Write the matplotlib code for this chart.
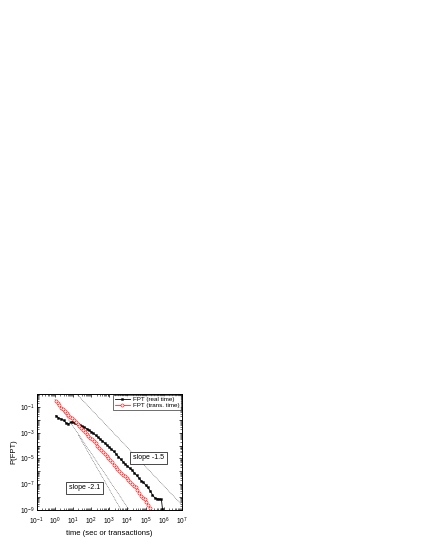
import matplotlib
matplotlib.use("Agg")
import matplotlib.pyplot as plt
import matplotlib.ticker as mticker
import numpy as np

plt.rcParams['font.family'] = ['Liberation Sans', 'DejaVu Sans']
plt.rcParams['mathtext.fontset'] = 'custom'
plt.rcParams['mathtext.rm'] = 'Liberation Sans'
plt.rcParams['mathtext.it'] = 'Liberation Sans'
plt.rcParams['mathtext.default'] = 'regular'

# FPT (real time): log10(time), log10(P)
real_logt = [0.06, 0.2, 0.35, 0.5, 0.62, 0.75, 0.87, 1.0, 1.12, 1.25, 1.37, 1.5,
             1.62, 1.75, 1.87, 2.0, 2.12, 2.25, 2.37, 2.5, 2.62, 2.75, 2.87, 3.0,
             3.12, 3.25, 3.37, 3.5, 3.62, 3.75, 3.87, 4.0, 4.12, 4.25, 4.37, 4.5,
             4.62, 4.75, 4.87, 5.0, 5.12, 5.25, 5.37, 5.5, 5.62, 5.75, 5.87, 5.93]
real_logp = [-1.68, -1.85, -1.95, -2.05, -2.25, -2.32, -2.2, -2.15, -2.28, -2.35, -2.42, -2.5,
             -2.58, -2.68, -2.8, -2.92, -3.05, -3.2, -3.35, -3.5, -3.65, -3.8, -3.97, -4.12,
             -4.3, -4.45, -4.65, -4.85, -5.05, -5.25, -5.42, -5.6, -5.75, -5.9, -6.1, -6.3,
             -6.5, -6.72, -6.85, -7.05, -7.25, -7.5, -7.8, -8.05, -8.12, -8.15, -8.17, -8.9]

# FPT (trans. time)
trans_logt = [0.06, 0.15, 0.25, 0.35, 0.45, 0.55, 0.65, 0.75, 0.85, 0.95, 1.05, 1.15,
              1.25, 1.35, 1.45, 1.55, 1.65, 1.75, 1.85, 1.95, 2.05, 2.15, 2.25, 2.35,
              2.45, 2.55, 2.65, 2.75, 2.85, 2.95, 3.05, 3.15, 3.25, 3.35, 3.45, 3.55,
              3.65, 3.75, 3.85, 3.95, 4.05, 4.15, 4.25, 4.35, 4.45, 4.55, 4.65, 4.75,
              4.85, 4.95, 5.05, 5.15, 5.25]
trans_logp = [-0.52, -0.7, -0.88, -1.05, -1.2, -1.35, -1.45, -1.6, -1.75, -1.9, -2.05, -2.18,
              -2.35, -2.5, -2.66, -2.8, -2.95, -3.1, -3.24, -3.38, -3.52, -3.68, -3.84, -4.0,
              -4.16, -4.32, -4.5, -4.66, -4.82, -4.98, -5.14, -5.3, -5.47, -5.64, -5.82, -5.98,
              -6.12, -6.26, -6.38, -6.52, -6.66, -6.8, -6.96, -7.1, -7.25, -7.45, -7.65, -7.9,
              -8.05, -8.15, -8.4, -8.65, -8.85]

# guide lines (log10 endpoints)
guide_a_logt = [1.2, 7.0]
guide_a_logp = [0.0, -8.6]
guide_b_logt = [0.0, 4.1]
guide_b_logp = [-0.4, -9.0]
guide_c_logt = [1.3, 3.65]
guide_c_logp = [-3.2, -9.0]

fig = plt.figure(figsize=(4.21, 5.45), dpi=100)
ax = fig.add_axes([0.0872, 0.0642, 0.3448, 0.2129])

for gx, gy in [(guide_a_logt, guide_a_logp), (guide_b_logt, guide_b_logp),
               (guide_c_logt, guide_c_logp)]:
    ax.plot(10.0 ** np.array(gx), 10.0 ** np.array(gy), color='#444444',
            lw=0.4, ls=(0, (1.5, 1.5)))

ax.plot(10.0 ** np.array(real_logt), 10.0 ** np.array(real_logp), color='black',
        lw=0.6, marker='s', ms=1.4, mew=0.3, label='FPT (real time)')
ax.plot(10.0 ** np.array(trans_logt), 10.0 ** np.array(trans_logp), color='red',
        lw=0.5, marker='o', ms=2.2, mfc='white', mec='red', mew=0.4,
        label='FPT (trans. time)')

ax.set_xscale('log')
ax.set_yscale('log')
ax.set_xlim(1e-1, 1e7)
ax.set_ylim(1e-9, 1e0)

ax.xaxis.set_major_locator(mticker.LogLocator(base=10, numticks=20))
ax.yaxis.set_major_locator(mticker.LogLocator(base=10, numticks=20))
ax.xaxis.set_minor_locator(mticker.LogLocator(base=10, subs=np.arange(2, 10), numticks=20))
ax.yaxis.set_minor_locator(mticker.LogLocator(base=10, subs=np.arange(2, 10), numticks=20))


def ylab(v, pos):
    e = int(round(np.log10(v)))
    if e % 2 == 0:
        return ''
    return r'$10^{%d}$' % e


ax.yaxis.set_major_formatter(mticker.FuncFormatter(ylab))
ax.yaxis.set_minor_formatter(mticker.NullFormatter())
ax.xaxis.set_minor_formatter(mticker.NullFormatter())

ax.tick_params(which='both', direction='in', top=True, right=True, labelsize=4.8)
ax.tick_params(axis='x', pad=4)
ax.tick_params(axis='y', pad=1.5)
ax.tick_params(which='major', length=2.5, width=0.5)
ax.tick_params(which='minor', length=1.3, width=0.4)
for s in ax.spines.values():
    s.set_linewidth(0.7)

ax.set_xlabel('time (sec or transactions)', fontsize=5.5, labelpad=2.5)
ax.set_ylabel('P(FPT)', fontsize=5.5, labelpad=2)

leg = ax.legend(loc='upper right', fontsize=4.5, frameon=True, fancybox=False,
                borderpad=0.3, handlelength=2.5, handletextpad=0.4,
                labelspacing=0.2, borderaxespad=0.1)
leg.get_frame().set_edgecolor('black')
leg.get_frame().set_linewidth(0.5)

box = dict(boxstyle='square,pad=0.4', fc='white', ec='black', lw=0.5)
ax.text(0.77, 0.45, 'slope -1.5', transform=ax.transAxes, fontsize=5,
        ha='center', va='center', bbox=box)
ax.text(0.33, 0.19, 'slope -2.1', transform=ax.transAxes, fontsize=5,
        ha='center', va='center', bbox=box)

fig.savefig('out.png', dpi=100)
